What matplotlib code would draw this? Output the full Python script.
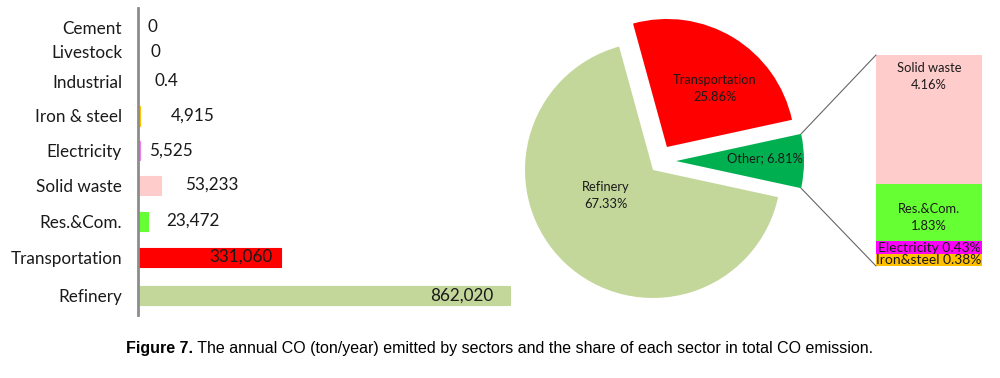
import numpy as np
import matplotlib
matplotlib.use('Agg')
import matplotlib.pyplot as plt
from matplotlib.patches import ConnectionPatch

#############################################################################
# Data
#############################################################################

sectors = ['Cement', 'Livestock', 'Industrial', 'Iron & steel', 'Electricity',
           'Solid waste', 'Res.&Com.', 'Transportation', 'Refinery']
emissions = [0, 0, 0.4, 4915, 5525, 53233, 23472, 331060, 862020]
value_labels = ['0', '0', '0.4', '4,915', '5,525', '53,233', '23,472', '331,060', '862,020']
bar_colors = ['#00b050', '#00b050', '#00803a', '#ffc000', '#f07cf0',
              '#ffcccc', '#66ff33', '#ff0000', '#c4d79b']

pie_names = ['Other', 'Transportation', 'Refinery']
pie_shares = [6.81, 25.86, 67.33]
pie_labels = ['Other; 6.81%', 'Transportation\n25.86%', 'Refinery\n67.33%']
pie_colors = ['#00b050', '#ff0000', '#c4d79b']

other_names = ['Iron&steel', 'Electricity', 'Res.&Com.', 'Solid waste']
other_shares = [0.38, 0.43, 1.83, 4.16]
other_labels = ['Iron&steel 0.38%', 'Electricity 0.43%', 'Res.&Com.\n1.83%', 'Solid waste\n4.16%']
other_colors = ['#ffc000', '#ff00ff', '#66ff33', '#ffcccc']

#############################################################################
# Layout
#############################################################################

plt.rcParams['font.family'] = ['Lato', 'DejaVu Sans']

row_pos = [0, 0.69, 1.5, 2.47, 3.42, 4.39, 5.39, 6.39, 7.47]
label_offset = [7, 9, 12, 22, 6, 17, 13, -6, -12]   # points from bar end

fig = plt.figure(figsize=(10, 3.78), dpi=100)

# ---------------- horizontal bars ----------------
ax = fig.add_axes([0.138, 1 - 315 / 378, 0.382, 307 / 378])
ax.barh(row_pos, emissions, height=0.53, color=bar_colors,
        edgecolor=bar_colors, linewidth=0.8)
ax.set_xlim(0, 862020 * 382 / 372)
ax.set_ylim(8.0, -0.53)
ax.set_yticks(row_pos)
ax.set_yticklabels(sectors, fontsize=12.3, color='#1a1a1a')
ax.tick_params(axis='y', length=0, pad=11.5)
ax.set_xticks([])
for s in ['top', 'right', 'bottom']:
    ax.spines[s].set_visible(False)
ax.spines['left'].set_color('#8c8c8c')
ax.spines['left'].set_linewidth(2)

for y, v, lab, off in zip(row_pos, emissions, value_labels, label_offset):
    ax.annotate(lab, xy=(v, y), xytext=(off, 0), textcoords='offset points',
                ha='left' if off > 0 else 'right', va='center',
                fontsize=12.3, color='#1a1a1a')

# ---------------- pie ----------------
axp = fig.add_axes([0.52, 1 - 320 / 378, 0.48, 320 / 378])
wedges, _ = axp.pie(pie_shares, colors=pie_colors, explode=[0.18, 0.21, 0],
                    startangle=-pie_shares[0] / 100 * 360 / 2, counterclock=True,
                    radius=1)
# nudge the "Other" slice up a little, as in the original
ocx, ocy = wedges[0].center
wedges[0].set_center((ocx, ocy + 0.07))
axp.set_xlim(-1.039, 2.711)
axp.set_ylim(-1.172, 1.328)
axp.set_aspect('equal')

pie_text_pos = [(0.875, 0.094), (0.484, 0.633), (-0.367, -0.203)]
for (tx, ty), lab in zip(pie_text_pos, pie_labels):
    axp.text(tx, ty, lab, ha='center', va='center', fontsize=9.3,
             color='#1a1a1a', linespacing=1.5)

# ---------------- bar of pie ----------------
axs = fig.add_axes([0.876, 1 - 266 / 378, 0.106, 211 / 378])
bottoms = np.concatenate([[0], np.cumsum(other_shares)[:-1]])
axs.bar(0, other_shares, bottom=bottoms, width=1, color=other_colors)
axs.set_xlim(-0.5, 0.5)
axs.set_ylim(0, sum(other_shares))
axs.axis('off')

label_frac = [0.5, 0.45, 0.42, 0.83]
label_size = [10, 10, 9.3, 9.3]
for b, h, lab, f, fs in zip(bottoms, other_shares, other_labels, label_frac, label_size):
    axs.text(0, b + h * f, lab, ha='center', va='center', fontsize=fs,
             color='#1a1a1a', linespacing=1.5)

# connector lines from the "Other" wedge to the stacked bar
w = wedges[0]
cx, cy = w.center
for ang, yb in [(w.theta2, sum(other_shares)), (w.theta1, 0)]:
    corner = (cx + w.r * np.cos(np.radians(ang)), cy + w.r * np.sin(np.radians(ang)))
    con = ConnectionPatch(xyA=corner, coordsA=axp.transData,
                          xyB=(-0.5, yb), coordsB=axs.transData,
                          color='#666666', linewidth=0.8)
    fig.add_artist(con)

# ---------------- caption ----------------
cap_font = ['Liberation Sans', 'DejaVu Sans']
t1 = fig.text(0.126, 1 - 348 / 378, 'Figure 7.', fontsize=11.5, fontweight='bold',
              family=cap_font, va='center', ha='left')
fig.text(0, 0, '').set_visible(False)
plt.annotate(' The annual CO (ton/year) emitted by sectors and the share of each sector in total CO emission.',
             xy=(1, 0.5), xycoords=t1, va='center', ha='left',
             fontsize=11.5, family=cap_font, annotation_clip=False)

plt.savefig('out.png', dpi=100)
